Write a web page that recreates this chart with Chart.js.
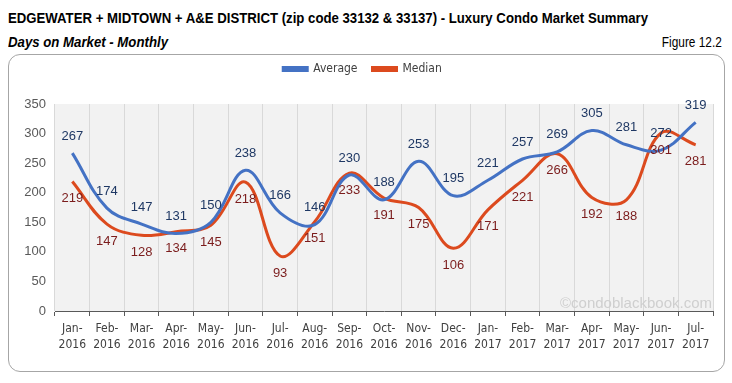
<!DOCTYPE html>
<html><head><meta charset="utf-8">
<script src="https://cdn.jsdelivr.net/npm/chart.js@4.4.0/dist/chart.umd.min.js"></script>
<style>
html,body{margin:0;padding:0;background:#fff;width:732px;height:383px;overflow:hidden;}
#wrap{position:relative;width:732px;height:383px;font-family:'Liberation Sans Narrow','Arial Narrow','Liberation Sans',sans-serif;}
.t{position:absolute;white-space:nowrap;color:#000;line-height:1;}
#title{left:8px;top:10px;font-size:15px;font-weight:bold;transform-origin:0 50%;}
#sub{left:8px;top:35px;font-size:14px;font-weight:bold;font-style:italic;transform-origin:0 50%;}
#fig{right:10px;top:35px;font-size:14px;transform-origin:100% 50%;}
#box{position:absolute;left:8px;top:54px;width:717px;height:318px;border:1px solid #a6a6a6;border-radius:12px;box-sizing:border-box;}
canvas{position:absolute;left:0;top:0;}
#wm{position:absolute;right:20px;top:295px;font-family:'Liberation Sans',sans-serif;font-size:15px;color:#cfcfcf;line-height:1;}
</style></head>
<body>
<div id="wrap">
  <div class="t" id="title">EDGEWATER + MIDTOWN + A&amp;E DISTRICT (zip code 33132 &amp; 33137) - Luxury Condo Market Summary</div>
  <div class="t" id="sub">Days on Market - Monthly</div>
  <div class="t" id="fig">Figure 12.2</div>
  <div id="box"></div>
  <canvas id="c" width="732" height="383"></canvas>
  <div id="wm">©condoblackbook.com</div>
</div>
<script>
const categories = [
  ["Jan-","2016"],["Feb-","2016"],["Mar-","2016"],["Apr-","2016"],["May-","2016"],["Jun-","2016"],
  ["Jul-","2016"],["Aug-","2016"],["Sep-","2016"],["Oct-","2016"],["Nov-","2016"],["Dec-","2016"],
  ["Jan-","2017"],["Feb-","2017"],["Mar-","2017"],["Apr-","2017"],["May-","2017"],["Jun-","2017"],["Jul-","2017"]
];
const averageDays = [267,174,147,131,150,238,166,146,230,188,253,195,221,257,269,305,281,272,319];
const medianDays  = [219,147,128,134,145,218,93,151,233,191,175,106,171,221,266,192,188,301,281];
const yTicks = [0,50,100,150,200,250,300,350];

function fitWidth(id, w){
  const el = document.getElementById(id);
  const cur = el.getBoundingClientRect().width;
  if (cur > 0) el.style.transform = 'scaleX(' + (w/cur) + ')';
}
fitWidth('title', 640);
fitWidth('sub', 160);
fitWidth('fig', 60);

const narrow = "'Liberation Sans Narrow','Arial Narrow','DejaVu Sans Condensed',sans-serif";
const regular = "'Liberation Sans','Open Sans',sans-serif";

const plotBg = {
  id:'plotBg',
  beforeDraw(chart){
    const {ctx, chartArea:a} = chart;
    ctx.save(); ctx.fillStyle='#f2f2f2';
    ctx.fillRect(a.left, a.top, a.right-a.left, a.bottom-a.top);
    ctx.restore();
  }
};
const valueLabels = {
  id:'valueLabels',
  afterDatasetsDraw(chart){
    const ctx = chart.ctx;
    ctx.save();
    ctx.font = "13px " + regular;
    ctx.textAlign='center'; ctx.textBaseline='middle';
    chart.data.datasets.forEach((ds,i)=>{
      const meta = chart.getDatasetMeta(i);
      ctx.fillStyle = ds.labelColor;
      meta.data.forEach((pt,j)=>{
        ctx.fillText(String(ds.data[j]), pt.x, pt.y + ds.labelOffset);
      });
    });
    ctx.restore();
  }
};

new Chart(document.getElementById('c'), {
  type:'line',
  data:{
    labels: categories,
    datasets:[
      {label:'Average', data:averageDays, borderColor:'#4472C4', backgroundColor:'#4472C4',
       borderWidth:3, pointRadius:0, tension:0.38, labelColor:'#1F3864', labelOffset:-17},
      {label:'Median', data:medianDays, borderColor:'#DC4A1E', backgroundColor:'#DC4A1E',
       borderWidth:3, pointRadius:0, tension:0.38, labelColor:'#7B1C1C', labelOffset:17}
    ]
  },
  options:{
    responsive:false, animation:false, devicePixelRatio:1,
    layout:{padding:{left:12, right:19, top:48, bottom:0}},
    plugins:{
      legend:{display:true, position:'top',
        labels:{boxWidth:24, boxHeight:3, padding:15, color:'#404040',
          font:{family:narrow, size:12}}},
      title:{display:true, text:'', weight:500, padding:{top:18, bottom:0}, font:{size:1, lineHeight:1}},
      tooltip:{enabled:false}
    },
    scales:{
      x:{
        offset:true,
        grid:{offset:true, color:'#d9d9d9', tickColor:'#595959', tickLength:5, drawOnChartArea:true},
        border:{color:'#595959', width:1},
        ticks:{color:'#404040', font:{family:narrow, size:12, lineHeight:1.3}, maxRotation:0, autoSkip:false, padding:5},
        afterFit(s){ s.height = 72; }
      },
      y:{
        min:0, max:350,
        afterBuildTicks(s){ s.ticks = yTicks.map(v=>({value:v})); },
        grid:{display:false, drawTicks:false},
        border:{display:false},
        ticks:{color:'#595959', font:{family:regular, size:13}, padding:9},
        afterFit(s){ s.width = 43; }
      }
    }
  },
  plugins:[plotBg, valueLabels]
});
</script>
</body></html>
